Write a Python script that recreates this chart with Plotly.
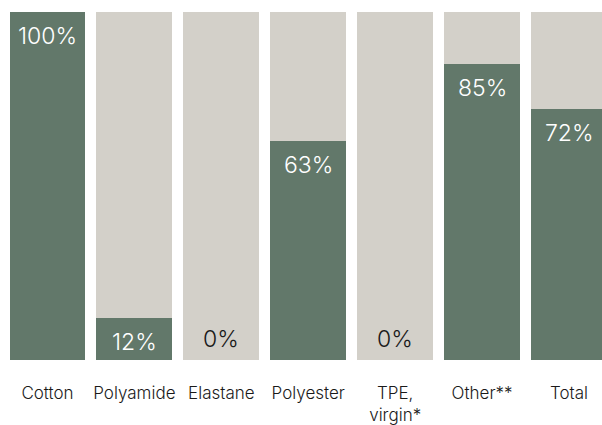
import plotly.graph_objects as go

# Share of recycled / preferred material per fibre category (percent)
categories = ["Cotton", "Polyamide", "Elastane", "Polyester", "TPE,<br>virgin*", "Other**", "Total"]
shares = [100, 12, 0, 63, 0, 85, 72]
remainder = [100 - v for v in shares]
labels = [f"{v}%" for v in shares]

GREEN = "#62786A"
GREY = "#D3D0C9"
FONT = "Inter"

x = list(range(len(categories)))

fig = go.Figure()
fig.add_bar(x=x, y=shares, marker=dict(color=GREEN, line=dict(width=0)), hoverinfo="skip")
fig.add_bar(x=x, y=remainder, marker=dict(color=GREY, line=dict(width=0)), hoverinfo="skip")

# Value labels: white inside the green segment, dark at the base when empty
for xi, v, lab in zip(x, shares, labels):
    if v > 0:
        fig.add_annotation(x=xi, y=v, text=lab, showarrow=False, yanchor="top",
                           yshift=-8, font=dict(family=FONT, size=23, weight=300, color="white"))
    else:
        fig.add_annotation(x=xi, y=0, text=lab, showarrow=False, yanchor="bottom",
                           yshift=5, font=dict(family=FONT, size=23, weight=300, color="#1a1a1a"))

fig.update_layout(
    barmode="stack",
    bargap=11 / 87,
    width=602, height=425,
    margin=dict(l=4, r=0, t=12, b=65),
    paper_bgcolor="white", plot_bgcolor="white",
    showlegend=False,
    font=dict(family=FONT, color="#1a1a1a"),
)
fig.update_xaxes(
    tickmode="array", tickvals=x, ticktext=categories,
    range=[-0.5, len(categories) - 0.5 - 10.5 / 87],
    showgrid=False, zeroline=False, showline=False, ticks="",
    tickfont=dict(family=FONT, size=17, weight=350, color="#1a1a1a"),
    ticklabelstandoff=21,
)
fig.update_yaxes(range=[0, 100], visible=False, showgrid=False, zeroline=False)

fig.write_html("out.html")
